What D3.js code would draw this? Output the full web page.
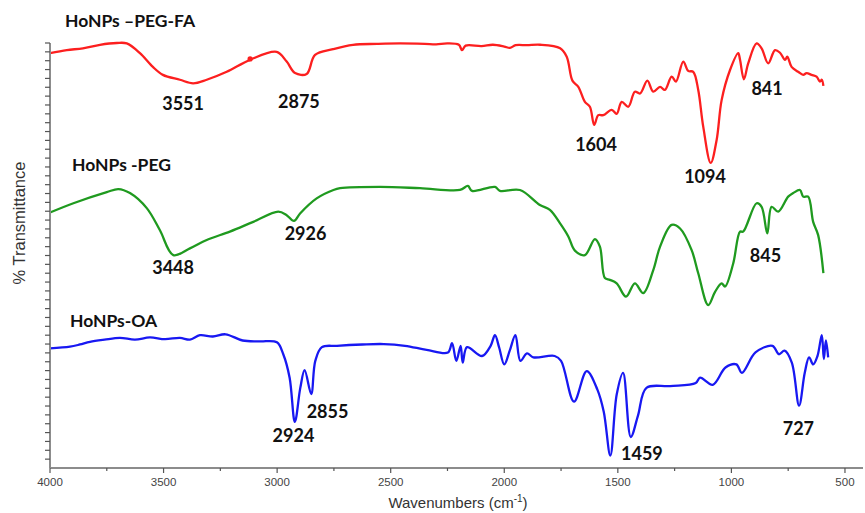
<!DOCTYPE html>
<html><head><meta charset="utf-8">
<script src="https://cdn.jsdelivr.net/npm/d3@7"></script>
<style>body{margin:0;background:#fff}svg{display:block}</style>
</head><body>
<svg id="c" width="865" height="513"></svg>
<script>
// ---- data (wavenumber cm-1, stacked % transmittance, arbitrary offset units) ----
const seriesNames = ["HoNPs –PEG-FA", "HoNPs -PEG", "HoNPs-OA"];
const seriesColors = ["#fc1f1f", "#1f9a1f", "#1818f2"];

const faWave = [4000,3926,3855,3780,3706,3662,3604,3547,3503,3428,3370,3310,3222,3119,3002,2958,2921,2870,2833,2754,2666,2560,2459,2350,2300,2250,2200,2186,2170,2100,2050,2000,1975,1950,1900,1842,1754,1725,1700,1674,1645,1623,1604,1586,1564,1527,1505,1483,1454,1425,1402,1370,1344,1314,1293,1263,1244,1212,1190,1168,1146,1124,1091,1065,1043,1006,970,962,945,926,889,867,838,808,786,764,754,735,706,684,669,647,625,610,602,595];
const faT    = [93.7,94.4,94.8,95.6,96.0,95.9,93.7,90.6,88.8,87.7,86.9,87.7,89.5,92.2,94.0,91.8,89.2,89.0,93.3,94.6,95.6,95.8,95.9,95.8,95.7,95.9,95.6,94.4,95.4,95.3,95.6,95.2,94.9,95.5,95.5,95.6,94.8,92.9,87.5,86.1,82.7,81.6,77.5,79.7,79.7,80.9,80.0,82.7,81.6,85.0,84.6,87.5,85.0,86.1,85.4,88.4,87.3,91.8,89.7,89.5,85.4,77.1,68.9,74.1,83.1,89.9,93.7,92.2,87.8,91.4,95.9,94.8,91.4,94.4,93.8,92.2,92.9,90.6,89.5,88.8,89.2,88.8,88.4,87.3,87.7,86.3];

const pegWave = [4000,3897,3750,3699,3648,3574,3516,3457,3384,3310,3208,3105,2995,2958,2926,2899,2826,2752,2723,2547,2371,2195,2160,2142,2041,2019,1931,1843,1799,1755,1718,1689,1645,1601,1579,1557,1535,1505,1464,1425,1388,1344,1314,1263,1226,1175,1146,1102,1072,1043,1028,992,962,948,889,867,842,823,794,750,728,698,684,662,640,618,595];
const pegT    = [57.7,59.8,62.3,63.0,62.1,58.7,53.7,48.1,49.6,51.5,53.4,55.6,57.9,57.1,55.8,57.5,60.9,62.8,63.2,63.5,63.2,62.8,63.7,62.6,63.5,62.6,62.8,59.4,58.3,55.3,52.3,49.1,48.1,51.7,50.0,42.9,42.5,41.7,38.7,41.7,39.5,44.7,50.0,54.9,54.1,49.2,44.0,36.8,39.8,41.7,41.0,46.2,53.4,53.4,59.8,59.0,53.0,59.0,57.9,61.3,62.1,62.8,61.3,61.3,55.6,52.6,44.0];

const oaWave = [4000,3912,3868,3824,3760,3692,3626,3560,3494,3428,3384,3340,3283,3227,3152,3076,3001,2973,2945,2922,2898,2879,2850,2832,2803,2737,2625,2530,2437,2342,2248,2230,2211,2192,2183,2164,2098,2060,2041,2023,2000,1976,1951,1929,1900,1872,1778,1750,1693,1637,1590,1562,1533,1505,1477,1443,1411,1374,1270,1157,1138,1082,1026,978,954,894,819,791,766,734,702,677,658,640,621,602,593,584,574];
const oaT    = [27.0,27.4,27.9,28.5,29.0,29.4,29.0,29.5,29.1,29.4,29.0,30.0,29.7,30.2,28.8,28.6,28.4,25.7,20.4,10.4,18.1,22.1,16.7,24.2,27.3,27.6,27.9,28.0,27.6,26.7,26.1,28.2,24.2,27.6,23.8,27.3,25.3,27.6,30.0,27.3,23.4,26.5,30.0,24.2,25.9,25.0,25.3,24.2,15.0,21.9,17.7,12.7,2.8,16.6,21.5,7.0,11.9,18.1,18.5,19.2,20.4,18.8,22.7,23.4,21.5,26.1,27.6,25.7,26.5,23.8,14.1,21.5,25.0,23.4,25.3,30.0,24.6,28.8,25.0];

// titles: [text, wavenumber, value]
const titleText = seriesNames;
const titleWave = [3934, 3903, 3912];
const titleT    = [99.6, 67.1, 31.9];

// peak labels
const peakText = ["3551","2875","1604","1094","841","3448","2926","845","2924","2855","1459","727"];
const peakWave = [3414,2904,1596,1116,843,3458,2875,850,2928,2778,1394,705];
const peakT    = [80.9,81.3,71.6,64.4,84.3,43.8,51.5,46.5,5.9,11.3,1.8,7.5];

const xTicks = [4000,3500,3000,2500,2000,1500,1000,500];
const xMinor = [3750,3250,2750,2250,1750,1250,750];

// ---- drawing ----
const svg = d3.select("#c");
const x = d3.scaleLinear().domain([4000, 425]).range([50, 862]);
const y = d3.scaleLinear().domain([0, 96]).range([468, 43]);

const data = [
  {w: faWave, t: faT},
  {w: pegWave, t: pegT},
  {w: oaWave, t: oaT}
];

const line = d3.line().x(d => x(d[0])).y(d => y(d[1])).curve(d3.curveCatmullRom.alpha(0.5));
data.forEach((s, i) => {
  svg.append("path")
    .datum(d3.zip(s.w, s.t))
    .attr("d", line)
    .attr("fill", "none")
    .attr("stroke", seriesColors[i])
    .attr("stroke-width", 2.3)
    .attr("stroke-linejoin", "round");
});
// small marker dot on red trace
svg.append("circle").attr("cx", x(3119)).attr("cy", y(92.4)).attr("r", 2.6).attr("fill", seriesColors[0]);

// axes
const axisColor = "#8c8c8c";
svg.append("line").attr("x1", 50).attr("x2", 863).attr("y1", y(0)).attr("y2", y(0))
  .attr("stroke", axisColor).attr("stroke-width", 2);
svg.append("line").attr("x1", 50).attr("x2", 50).attr("y1", y(96)).attr("y2", y(0))
  .attr("stroke", axisColor).attr("stroke-width", 2);

const yTicks = d3.range(2, 97, 2);
svg.append("g").selectAll("line").data(yTicks).join("line")
  .attr("x1", 45).attr("x2", 50).attr("y1", d => y(d)).attr("y2", d => y(d))
  .attr("stroke", "#555").attr("stroke-width", 1.2);

svg.append("g").selectAll("line").data(xTicks).join("line")
  .attr("x1", d => x(d)).attr("x2", d => x(d)).attr("y1", y(0)).attr("y2", y(0) + 5)
  .attr("stroke", "#555").attr("stroke-width", 1.2);
svg.append("g").selectAll("line").data(xMinor).join("line")
  .attr("x1", d => x(d)).attr("x2", d => x(d)).attr("y1", y(0)).attr("y2", y(0) + 3)
  .attr("stroke", "#555").attr("stroke-width", 1.2);
svg.append("g").selectAll("text").data(xTicks).join("text")
  .attr("x", d => x(d)).attr("y", 486)
  .attr("text-anchor", "middle")
  .attr("font-family", "Liberation Sans, Arial, sans-serif").attr("font-size", 11.5)
  .attr("fill", "#444").text(d => d);

// axis titles
const xt = svg.append("text").attr("x", 458).attr("y", 508).attr("text-anchor", "middle")
  .attr("font-family", "Liberation Sans, Arial, sans-serif").attr("font-size", 15).attr("fill", "#333");
xt.append("tspan").text("Wavenumbers (cm");
xt.append("tspan").attr("font-size", 10).attr("dy", -6).text("-1");
xt.append("tspan").attr("dy", 6).text(")");

svg.append("text").attr("transform", "translate(25,223) rotate(-90)").attr("text-anchor", "middle")
  .attr("font-family", "Liberation Sans, Arial, sans-serif").attr("font-size", 16.5).attr("fill", "#333")
  .text("% Transmittance");

// series titles
svg.append("g").selectAll("text").data(d3.range(3)).join("text")
  .attr("x", i => x(titleWave[i])).attr("y", i => y(titleT[i]))
  .attr("font-family", "Lato, 'Open Sans', sans-serif").attr("font-weight", "bold").attr("font-size", 17.5)
  .attr("fill", "#111").text(i => titleText[i]);

// peak labels
svg.append("g").selectAll("text").data(d3.range(peakText.length)).join("text")
  .attr("x", i => x(peakWave[i])).attr("y", i => y(peakT[i]))
  .attr("text-anchor", "middle")
  .attr("font-family", "Lato, 'Open Sans', sans-serif").attr("font-weight", "bold").attr("font-size", 18)
  .attr("fill", "#111").text(i => peakText[i]);
</script>
</body></html>
